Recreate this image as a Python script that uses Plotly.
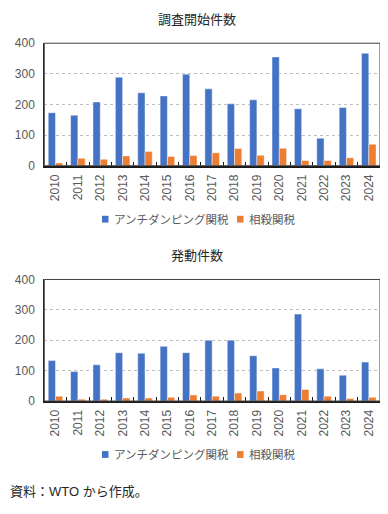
import plotly.graph_objects as go

years = [str(y) for y in range(2010, 2025)]
inv_ad = [173, 165, 208, 289, 238, 228, 299, 251, 202, 215, 355, 186, 90, 190, 367]
inv_cvd = [9, 24, 21, 32, 46, 30, 33, 42, 56, 34, 57, 17, 17, 26, 70]
imp_ad = [133, 97, 119, 159, 157, 180, 159, 200, 200, 149, 109, 286, 106, 85, 128]
imp_cvd = [16, 6, 6, 10, 10, 12, 20, 16, 26, 33, 21, 38, 16, 8, 12]

name_ad = "アンチダンピング関税"
name_cvd = "相殺関税"
title_top = "調査開始件数"
title_bot = "発動件数"
source = "資料：WTO から作成。"

BLUE = "#4472C4"
ORANGE = "#ED7D31"
FONT = "Liberation Sans, Noto Sans CJK JP"
OFF = 8  # page body margin
W, H = 388 - OFF, 514 - OFF


def fx(px):
    return (px - OFF) / W


def fy(py):
    return 1 - (py - OFF) / H


fig = go.Figure()
line = dict(color="rgba(255,255,255,0.45)", width=1)
fig.add_bar(x=years, y=inv_ad, name=name_ad, marker=dict(color=BLUE, line=line),
            xaxis="x", yaxis="y")
fig.add_bar(x=years, y=inv_cvd, name=name_cvd, marker=dict(color=ORANGE, line=line),
            xaxis="x", yaxis="y")
fig.add_bar(x=years, y=imp_ad, name=name_ad, marker=dict(color=BLUE, line=line),
            xaxis="x2", yaxis="y2")
fig.add_bar(x=years, y=imp_cvd, name=name_cvd, marker=dict(color=ORANGE, line=line),
            xaxis="x2", yaxis="y2")

xdom = [fx(44.3), fx(380)]
top_dom = [fy(163), fy(37)]
bot_dom = [fy(405), fy(280)]


def xax(anchor):
    return dict(domain=xdom, anchor=anchor, type="category", tickangle=-90,
                showline=True, linecolor="#1a1a1a", linewidth=2, mirror=False,
                ticks="inside", tickson="boundaries", ticklen=4, tickcolor="#1a1a1a",
                tickwidth=1, ticklabelstandoff=2,
                tickfont=dict(size=12, color="#595959", family=FONT), showgrid=False)


def yax(dom, anchor):
    return dict(domain=dom, anchor=anchor, range=[0, 400], dtick=100,
                showline=True, linecolor="#262626", linewidth=1, mirror=True,
                showgrid=True, gridcolor="#BFBFBF", griddash="3px,3px", gridwidth=1,
                zeroline=False, ticks="", ticklabelstandoff=6,
                tickfont=dict(size=12, color="#595959", family=FONT))


shapes = []
for xr, yr in (("x", "y"), ("x2", "y2")):
    shapes.append(dict(type="rect", xref=xr + " domain", yref=yr + " domain",
                       x0=0, x1=1, y0=0, y1=1, line=dict(color="#404040", width=1),
                       fillcolor="rgba(0,0,0,0)", layer="above"))

annotations = [
    dict(text=title_top, x=fx(196.5), y=fy(13), yanchor="middle"),
    dict(text=title_bot, x=fx(196.5), y=fy(255), yanchor="middle"),
    dict(text=source, x=fx(8), y=fy(498), xanchor="left", yanchor="middle"),
]
for a in annotations:
    a.update(xref="paper", yref="paper", showarrow=False,
             font=dict(size=13, color="#262626", family=FONT))

# legends (swatch + label) for each panel
for ly in (218, 460):
    for sx, tx, col, label in ((102, 112, BLUE, name_ad), (237, 246.5, ORANGE, name_cvd)):
        shapes.append(dict(type="rect", xref="paper", yref="paper",
                           x0=fx(sx), x1=fx(sx + 6.5), y0=fy(ly + 3.5), y1=fy(ly - 3.5),
                           fillcolor=col, line=dict(width=0)))
        annotations.append(dict(text=label, x=fx(tx), y=fy(ly), xref="paper", yref="paper",
                                xanchor="left", yanchor="middle", showarrow=False,
                                font=dict(size=11.5, color="#595959", family=FONT)))

fig.update_layout(
    width=W, height=H, margin=dict(l=0, r=0, t=0, b=0),
    paper_bgcolor="white", plot_bgcolor="white",
    barmode="group", bargap=0.35, bargroupgap=0,
    showlegend=False,
    font=dict(family=FONT),
    xaxis=xax("y"), yaxis=yax(top_dom, "x"),
    xaxis2=xax("y2"), yaxis2=yax(bot_dom, "x2"),
    shapes=shapes,
    annotations=annotations,
)

fig.write_html("out.html")
